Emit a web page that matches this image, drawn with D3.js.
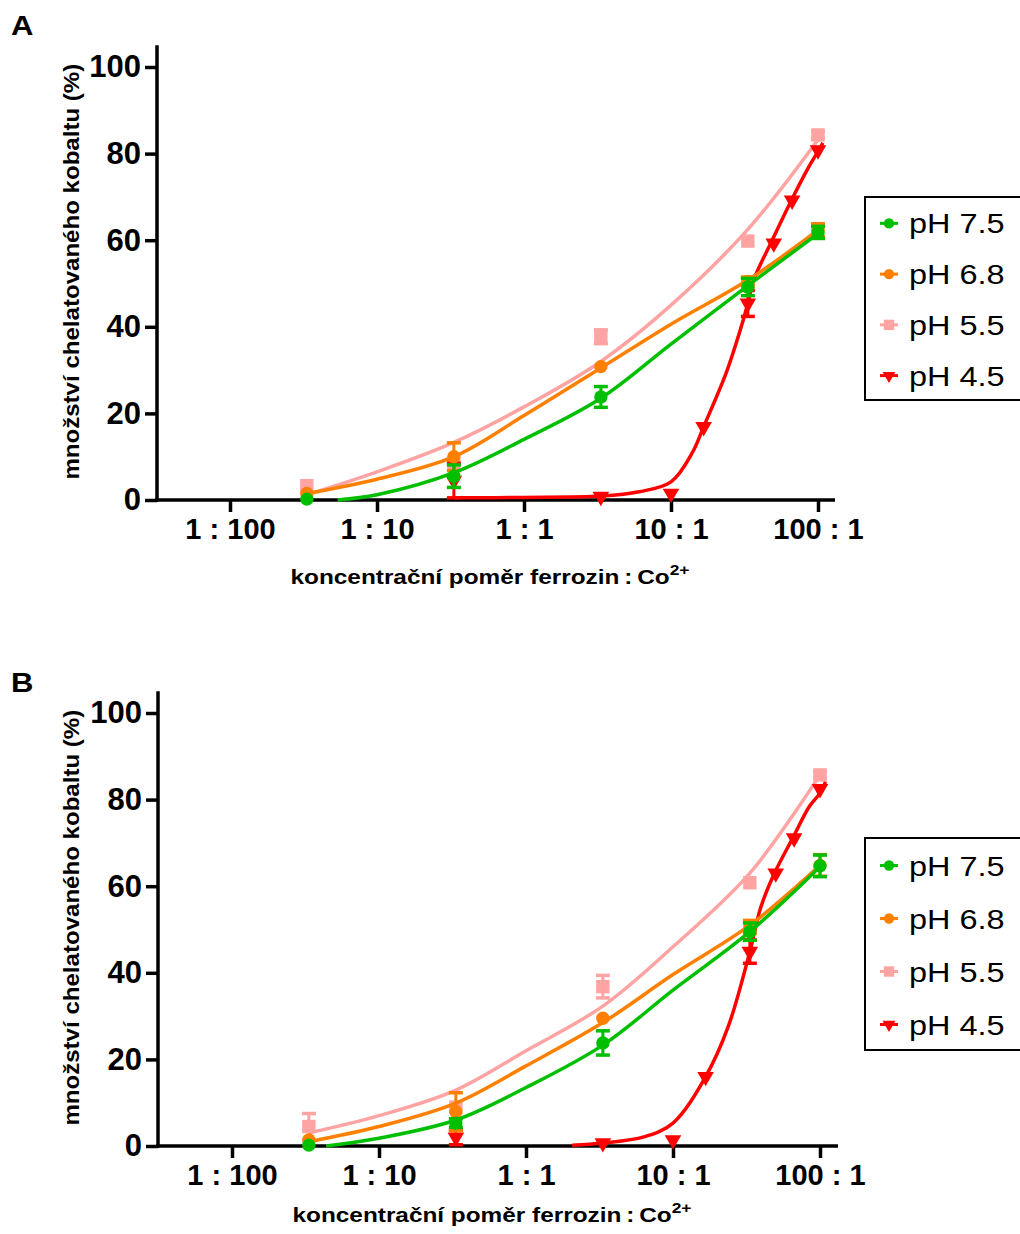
<!DOCTYPE html>
<html>
<head>
<meta charset="utf-8">
<script src="https://cdn.jsdelivr.net/npm/d3@7"></script>
<style>
  body { margin: 0; background: #fff; }
  svg { display: block; font-family: "Liberation Sans", Arial, sans-serif; }
</style>
</head>
<body>
<svg id="chart" width="1020" height="1234"></svg>
<script>
'use strict';

// ─── Data ─────────────────────────────────────────────────────────────────────
const xTicks      = [0.01, 0.1, 1, 10, 100];
const xTickLabels = ['1 : 100', '1 : 10', '1 : 1', '10 : 1', '100 : 1'];
const yTicks      = [0, 20, 40, 60, 80, 100];

const seriesNames = ['pH 7.5', 'pH 6.8', 'pH 5.5', 'pH 4.5'];

// ferrozin : Co2+ ratios
const conc    = [1 / 30, 1 / 3, 10 / 3, 100 / 3, 100];
const concRed = [1 / 3, 10 / 3, 10, 50 / 3, 100 / 3, 50, 200 / 3, 100];

// Panel A – measured points (%), error (SD)
const aPH75 = [0.2, 5.5, 23.8, 49.2, 61.8];
const aPH75Err = [0, 2.6, 2.4, 2.0, 1.4];
const aPH68 = [1.5, 10.0, 30.8, 50.5, 62.3];
const aPH68Err = [0, 3.2, 0, 1.0, 1.5];
const aPH55 = [3.3, 8.0, 37.7, 59.8, 84.3];
const aPH55Err = [0, 0, 1.6, 0, 0.8];
const aPH45 = [4.5, 0.8, 1.5, 16.9, 45.4, 59.3, 69.2, 80.8];
const aPH45Err = [4.0, 0, 0, 0, 3.0, 0, 0, 0];

// Panel A – fitted curves
const aFit75X = [0.054, 0.1, 1 / 3, 1, 10 / 3, 10, 100 / 3, 100];
const aFit75Y = [0, 1.2, 6.3, 14, 23.5, 36, 49.5, 61.5];
const aFit68X = [1 / 30, 0.1, 1 / 3, 1, 10 / 3, 10, 100 / 3, 100];
const aFit68Y = [1.5, 4.8, 10, 19.5, 30.5, 40.6, 50.8, 62.3];
const aFit55X = [1 / 30, 0.1, 1 / 3, 1, 10 / 3, 10, 100 / 3, 100];
const aFit55Y = [1.2, 6.5, 13.3, 21.5, 32, 45, 62.5, 83.2];
const aFit45X = [1 / 3, 1, 10 / 3, 6.06, 10, 13.9, 50 / 3, 23.7, 29, 100 / 3, 36.7, 47.7, 65.2, 84.2, 100, 108];
const aFit45Y = [0.5, 0.6, 0.9, 1.9, 4.2, 10.8, 16.9, 29.3, 38.3, 45.4, 51, 59.3, 68.9, 76.2, 80.5, 82.5];

// Panel B – measured points (%), error (SD)
const bPH75 = [0.2, 5.3, 23.8, 49.5, 64.7];
const bPH75Err = [0, 1.0, 2.8, 2.0, 2.5];
const bPH68 = [1.4, 7.9, 29.5, 50.6, 64.8];
const bPH68Err = [0, 4.4, 0, 1.5, 2.5];
const bPH55 = [4.5, 9.0, 36.8, 60.8, 85.7];
const bPH55Err = [3.0, 0, 2.6, 0, 0.8];
const bPH45 = [2.0, 0.7, 1.4, 16.0, 44.9, 63.0, 71.1, 82.5];
const bPH45Err = [1.7, 0, 0, 0, 2.7, 0, 0, 0];

// Panel B – fitted curves
const bFit75X = [0.0437, 0.1, 1 / 3, 1, 10 / 3, 10, 100 / 3, 100];
const bFit75Y = [0, 1.8, 6, 13.5, 23.3, 36, 49.5, 64.5];
const bFit68X = [1 / 30, 0.1, 1 / 3, 1, 10 / 3, 10, 100 / 3, 100];
const bFit68Y = [1, 4.5, 9.9, 18.5, 28.5, 39.6, 51, 64.8];
const bFit55X = [1 / 30, 0.1, 1 / 3, 1, 10 / 3, 10, 100 / 3, 100];
const bFit55Y = [3, 7, 12.9, 22, 32.3, 46, 63, 85.7];
const bFit45X = [2.06, 10 / 3, 6.35, 10, 50 / 3, 23.7, 100 / 3, 39.7, 49, 65.2, 84.6, 100, 109];
const bFit45Y = [0.2, 0.7, 2.1, 5.3, 16, 27.5, 44.9, 55.3, 63, 71.1, 78.4, 81.5, 84.1];

// ─── Styles ───────────────────────────────────────────────────────────────────
const COLORS  = ['#00bf00', '#ff8000', '#ffa3a3', '#ff0000'];
const SYMBOLS = ['circle', 'circle', 'square', 'triangle'];
const FONT = '"Liberation Sans", Arial, sans-serif';

function zip(xs, ys) { return xs.map((x, i) => ({ x, y: ys[i] })); }
function pts(xs, ys, es) { return xs.map((x, i) => ({ x, y: ys[i], e: es[i] })); }

const panels = [
  {
    letter: 'A', letterY: 35, top: 45, zero: 500, axisX: 157, right: 835, shift: 0,
    legendY: 197, legendH: 203, titleY: 584, tickLabelY: 539,
    series: [
      { pts: pts(conc, aPH75, aPH75Err), fit: zip(aFit75X, aFit75Y) },
      { pts: pts(conc, aPH68, aPH68Err), fit: zip(aFit68X, aFit68Y) },
      { pts: pts(conc, aPH55, aPH55Err), fit: zip(aFit55X, aFit55Y) },
      { pts: pts(concRed, aPH45, aPH45Err), fit: zip(aFit45X, aFit45Y) },
    ],
  },
  {
    letter: 'B', letterY: 692, top: 692, zero: 1146, axisX: 158, right: 838, shift: 2,
    legendY: 838, legendH: 212, titleY: 1222, tickLabelY: 1185,
    series: [
      { pts: pts(conc, bPH75, bPH75Err), fit: zip(bFit75X, bFit75Y) },
      { pts: pts(conc, bPH68, bPH68Err), fit: zip(bFit68X, bFit68Y) },
      { pts: pts(conc, bPH55, bPH55Err), fit: zip(bFit55X, bFit55Y) },
      { pts: pts(concRed, bPH45, bPH45Err), fit: zip(bFit45X, bFit45Y) },
    ],
  },
];

const svg = d3.select('#chart');

function symbolPath(kind, scale) {
  const k = scale || 1;
  if (kind === 'circle')   return d3.symbol(d3.symbolCircle, 140 * k)();
  if (kind === 'square')   return d3.symbol(d3.symbolSquare, 180 * k)();
  return d3.symbol(d3.symbolTriangle, 120 * k)();
}

function drawPanel(p) {
  const x = d3.scaleLog().domain([0.01, 100]).range([230 + p.shift, 818 + p.shift]);
  const y = d3.scaleLinear().domain([0, 100]).range([p.zero, p.zero - 433]);
  const g = svg.append('g');

  // panel letter
  g.append('text')
    .attr('transform', `translate(11,${p.letterY}) scale(1.15,1)`)
    .attr('font-size', 27).attr('font-weight', 'bold')
    .text(p.letter);

  // y axis
  const yAxis = g.append('g')
    .attr('transform', `translate(${p.axisX},0)`)
    .call(d3.axisLeft(y).tickValues(yTicks).tickSize(12).tickSizeOuter(0).tickPadding(4));
  yAxis.select('.domain').remove();
  yAxis.selectAll('line').attr('stroke', '#000').attr('stroke-width', 3.5);
  yAxis.selectAll('text')
    .attr('font-family', FONT).attr('font-size', 31).attr('font-weight', 'bold')
    .attr('fill', '#000');

  // x axis
  const xAxis = g.append('g')
    .attr('transform', `translate(0,${p.zero})`)
    .call(d3.axisBottom(x).tickValues(xTicks).tickSize(12).tickSizeOuter(0)
      .tickFormat((d, i) => xTickLabels[i]));
  xAxis.select('.domain').remove();
  xAxis.selectAll('line').attr('stroke', '#000').attr('stroke-width', 3.5);
  xAxis.selectAll('text')
    .attr('font-family', FONT).attr('font-size', 29).attr('font-weight', 'bold')
    .attr('fill', '#000').attr('dy', null)
    .attr('y', p.tickLabelY - p.zero);

  // axis lines
  g.append('line')
    .attr('x1', p.axisX).attr('x2', p.axisX)
    .attr('y1', y(105)).attr('y2', p.zero + 1.75)
    .attr('stroke', '#000').attr('stroke-width', 3.5);
  g.append('line')
    .attr('x1', p.axisX - 1.75).attr('x2', p.right)
    .attr('y1', p.zero).attr('y2', p.zero)
    .attr('stroke', '#000').attr('stroke-width', 3.5);

  // axis titles
  g.append('text')
    .attr('transform', `translate(79,${(y(105) + p.zero) / 2 - 1}) rotate(-90) scale(1.12,1)`)
    .attr('text-anchor', 'middle')
    .attr('font-size', 21.5).attr('font-weight', 'bold')
    .text('množství chelatovaného kobaltu (%)');

  const t = g.append('text')
    .attr('transform', `translate(${490 + p.shift},${p.titleY}) scale(1.16,1)`)
    .attr('text-anchor', 'middle')
    .attr('font-size', 21).attr('font-weight', 'bold');
  t.append('tspan').text('koncentrační poměr ferrozin\u2009:\u2009Co');
  t.append('tspan').attr('dy', -9).attr('font-size', 15).text('2+');

  // series: pink under, then red, orange, green on top
  const line = d3.line().x(d => x(d.x)).y(d => y(d.y)).curve(d3.curveCatmullRom.alpha(0.5));
  const order = [2, 3, 1, 0];
  order.forEach(si => {
    const s = p.series[si];
    const color = COLORS[si];
    const sg = g.append('g');
    sg.append('path')
      .attr('d', line(s.fit))
      .attr('fill', 'none')
      .attr('stroke', color)
      .attr('stroke-width', 3.5);

    // error bars
    s.pts.filter(d => d.e > 0).forEach(d => {
      const cx = x(d.x);
      const y1 = y(d.y + d.e), y2 = y(Math.max(0, d.y - d.e));
      sg.append('line').attr('x1', cx).attr('x2', cx).attr('y1', y1).attr('y2', y2)
        .attr('stroke', color).attr('stroke-width', 3);
      [y1, y2].forEach(yy => sg.append('line')
        .attr('x1', cx - 7).attr('x2', cx + 7).attr('y1', yy).attr('y2', yy)
        .attr('stroke', color).attr('stroke-width', 3.5));
    });

    // markers
    sg.selectAll('path.mk').data(s.pts).join('path')
      .attr('class', 'mk')
      .attr('d', symbolPath(SYMBOLS[si]))
      .attr('transform', d => `translate(${x(d.x)},${y(d.y)})` + (SYMBOLS[si] === 'triangle' ? ' rotate(180)' : ''))
      .attr('fill', color);
  });

  // legend
  const lg = g.append('g');
  lg.append('rect')
    .attr('x', 865).attr('y', p.legendY)
    .attr('width', 175).attr('height', p.legendH)
    .attr('fill', '#fff').attr('stroke', '#000').attr('stroke-width', 2);
  const rowH = p.legendH / 4;
  seriesNames.forEach((name, i) => {
    const cy = p.legendY + rowH * (i + 0.5) + 1;
    lg.append('line').attr('x1', 880).attr('x2', 898).attr('y1', cy).attr('y2', cy)
      .attr('stroke', COLORS[i]).attr('stroke-width', 3);
    lg.append('path')
      .attr('d', symbolPath(SYMBOLS[i], 0.6))
      .attr('transform', `translate(889,${cy})` + (SYMBOLS[i] === 'triangle' ? ' rotate(180)' : ''))
      .attr('fill', COLORS[i]);
    lg.append('text')
      .attr('transform', `translate(909,${cy + 10}) scale(1.16,1)`)
      .attr('font-size', 28)
      .text(name);
  });
}

panels.forEach(drawPanel);
</script>
</body>
</html>
